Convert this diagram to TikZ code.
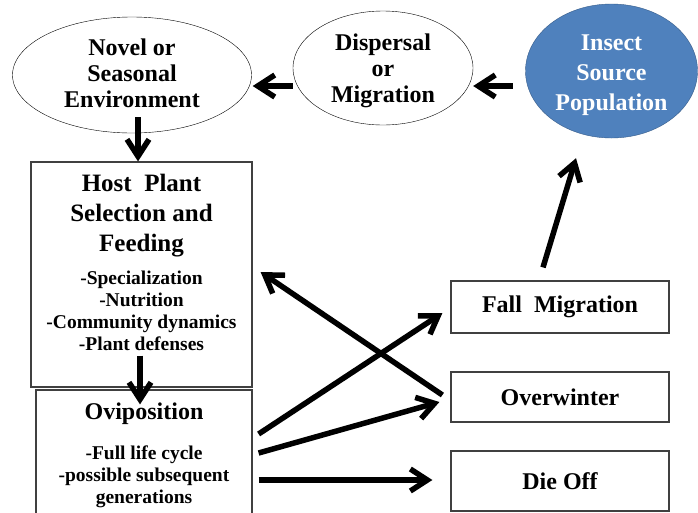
\documentclass[tikz,border=0pt]{standalone}
\usepackage{fontspec}
\setmainfont{Liberation Serif}
\usetikzlibrary{arrows.meta,shapes.geometric,positioning}
\definecolor{srcblue}{RGB}{79,129,189}
\definecolor{srcedge}{RGB}{56,93,138}
\definecolor{boxedge}{RGB}{64,64,64}
\tikzset{
  oval/.style={ellipse,draw,thin,inner sep=0pt},
  ovaltext/.style={inner sep=0pt,align=center,font=\fontsize{24}{26}\selectfont\bfseries},
  stagebox/.style={draw=boxedge,line width=1.2pt,inner sep=0pt,font=\fontsize{24}{28}\selectfont\bfseries},
  headtext/.style={inner sep=0pt,align=center,font=\fontsize{25}{30}\selectfont\bfseries},
  listtext/.style={inner sep=0pt,align=center,font=\fontsize{19.5}{22}\selectfont\bfseries},
  flowarrow/.style={line width=5.5pt,-{Straight Barb[length=17pt,width=22pt]}}
}
\begin{document}
\begin{tikzpicture}[x=1pt,y=-1pt]
\useasboundingbox (0,0) rectangle (698,512);
% top row
\node[oval,minimum width=239pt,minimum height=116pt] (novel) at (132,75) {};
\node[ovaltext] (novelText) at ([shift={(0,-2)}]novel.center) {Novel or\\Seasonal\\Environment};
\node[oval,minimum width=180pt,minimum height=114pt] (disp) at (383,68) {};
\node[ovaltext] (dispText) at ([shift={(0,3)}]disp.center) {Dispersal\\or\\Migration};
\node[oval,fill=srcblue,draw=srcedge,minimum width=172pt,minimum height=134pt] (insect) at (611.5,71) {};
\node[ovaltext,text=white,font=\fontsize{24}{30}\selectfont\bfseries] (insectText) at ([shift={(0,4)}]insect.center) {Insect\\Source\\Population};
% left column
\node[stagebox,minimum width=221pt,minimum height=225pt] (host) at (141.5,274.5) {};
\node[headtext,anchor=north] (hostTitle) at ([shift={(0,12.5)}]host.north) {Host\ \ Plant\\Selection and\\Feeding};
\node[listtext,below=14pt of hostTitle] (hostList) {-Specialization\\-Nutrition\\-Community dynamics\\-Plant defenses};
\node[stagebox,minimum width=216pt,minimum height=140pt] (ovi) at (144,460) {};
\node[headtext,font=\fontsize{24}{28}\selectfont\bfseries,anchor=north] (oviTitle) at ([shift={(0,13.5)}]ovi.north) {Oviposition};
\node[listtext,below=20pt of oviTitle] (oviList) {-Full life cycle\\-possible subsequent\\generations};
% right column
\node[stagebox,minimum width=218pt,minimum height=52pt] (fall) at (560,307) {Fall\ \ Migration};
\node[stagebox,minimum width=218pt,minimum height=50pt] (over) at (560,397) {Overwinter};
\node[stagebox,minimum width=218pt,minimum height=60pt] (die) at (560,481) {Die Off};
% arrows
\draw[flowarrow] ([shift={(-12.5,15)}]insect.west) -- ([shift={(0,18)}]disp.east);
\draw[flowarrow] ([shift={(0,18)}]disp.west) -- ([shift={(1,11)}]novel.east);
\draw[flowarrow] ([shift={(6,-16)}]novel.south) -- ([shift={(-3.5,0)}]host.north);
\draw[flowarrow] ([shift={(-1.5,-32)}]host.south) -- ([shift={(-4,15)}]ovi.north);
\draw[flowarrow] ([shift={(6,-26)}]ovi.east) -- ([shift={(-8,6)}]fall.west);
\draw[flowarrow] ([shift={(6,-7)}]ovi.east) -- ([shift={(-11,5)}]over.west);
\draw[flowarrow] ([shift={(6,20)}]ovi.east) -- ([shift={(-18,-1)}]die.west);
\draw[flowarrow] ([shift={(-8,-2)}]over.west) -- ([shift={(8,-2.5)}]host.east);
\draw[flowarrow] ([shift={(-17,-13)}]fall.north) -- ([shift={(-35.5,20)}]insect.south);
\end{tikzpicture}
\end{document}
